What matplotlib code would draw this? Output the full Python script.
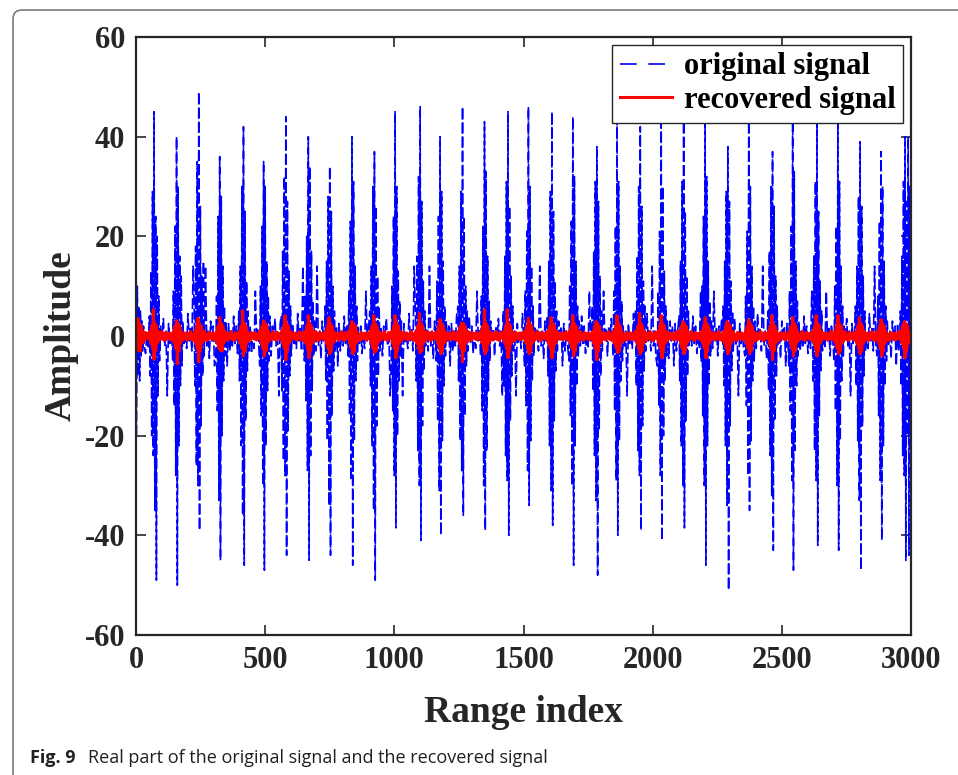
import numpy as np
import matplotlib
matplotlib.use('Agg')
import matplotlib.pyplot as plt
from matplotlib.patches import FancyBboxPatch

plt.rcParams['axes.unicode_minus'] = False

# burst centres (range index)
burst_centers = [14, 73, 163, 246, 330, 419, 500, 583, 673, 753, 842, 926,
                 1009, 1103, 1183, 1267, 1355, 1443, 1525, 1613, 1697, 1787,
                 1868, 1955, 2039, 2123, 2209, 2294, 2378, 2467, 2548, 2639,
                 2723, 2806, 2890, 2980]

# original signal, samples inside each burst
blue_bursts = [
    [21, -30, 16, -20, 10, -8, 6, -9, 5, -4, 3, -3, 2, -2],
    [4, -8, 13, -20, 29, -24, 45, -35, 24, -49, 20, -12, 8, -5],
    [-5, 9, -14, 22, -28, 40, -50, 30, -22, 16, -10, 12, -6, 3],
    [6, -10, 18, -26, 35, -30, 49, -39, 26, -18, 12, -8, 15, -4],
    [-4, 8, -15, 24, -33, 36, -45, 28, -20, 14, -9, 6, -4, 3],
    [5, -9, 14, -22, 30, -36, 42, -46, 25, -17, 11, -7, 5, -3],
    [-6, 10, -16, 22, -30, 35, -47, 30, -22, 15, -11, 8, -5, 4],
    [4, -11, 17, -25, 32, -28, 44, -44, 27, -19, 13, -8, 6, -4],
    [-5, 8, -13, 20, -27, 40, -45, 34, -24, 17, -11, 7, -4, 3],
    [6, -9, 15, -21, 28, -34, 34, -44, 25, -16, 10, -7, 5, -3],
    [-4, 9, -16, 23, -29, 40, -46, 31, -21, 14, -9, 6, -5, 2],
    [5, -10, 14, -22, 30, -35, 37, -49, 26, -18, 12, -8, 6, -3],
    [-6, 10, -15, 24, -28, 45, -38.5, 30, -20, 13, -9, 7, -4, 3],
    [4, -9, 16, -23, 32, -30, 46, -41, 27, -18, 11, -7, 5, -2],
    [-5, 11, -17, 24, -31, 40, -40, 29, -21, 15, -10, 6, -4, 3],
    [6, -9, 14, -21, 29, -27, 46, -36, 24, -16, 10, -6, 5, -3],
    [-4, 8, -15, 22, -30, 43, -39, 33, -23, 16, -11, 7, -5, 3],
    [5, -10, 16, -24, 31, -29, 45, -40, 26, -17, 12, -8, 6, -3],
    [-6, 9, -14, 21, -27, 46, -34, 30, -21, 14, -9, 6, -4, 2],
    [4, -8, 15, -22, 29, -31, 45, -38, 25, -17, 11, -7, 5, -3],
    [-5, 10, -16, 23, -30, 44, -46, 32, -22, 15, -10, 6, -4, 3],
    [6, -11, 17, -24, 31, -33, 38, -48, 27, -19, 12, -8, 5, -3],
    [-4, 9, -15, 22, -29, 45, -40, 31, -21, 14, -9, 7, -5, 2],
    [5, -10, 16, -23, 30, -28, 42, -39, 26, -18, 11, -7, 6, -3],
    [-6, 9, -14, 21, -28, 47, -41, 30, -20, 13, -9, 6, -4, 3],
    [4, -9, 15, -22, 31, -30, 46, -38.5, 25, -17, 12, -8, 5, -2],
    [-5, 10, -16, 24, -30, 45, -46, 32, -22, 15, -10, 7, -4, 3],
    [6, -10, 15, -22, 29, -34, 38, -51, 27, -18, 11, -7, 5, -3],
    [-4, 8, -14, 21, -28, 46, -35, 30, -21, 14, -9, 6, -5, 3],
    [5, -11, 17, -24, 30, -32, 37, -43, 26, -17, 12, -8, 6, -2],
    [-6, 9, -15, 22, -29, 46, -47, 33, -23, 15, -10, 7, -4, 3],
    [4, -9, 16, -23, 31, -29, 45, -42, 25, -16, 11, -7, 5, -3],
    [-5, 10, -15, 22, -30, 45, -43, 31, -21, 14, -9, 6, -4, 2],
    [6, -10, 14, -21, 28, -33, 39, -47, 26, -18, 12, -8, 5, -3],
    [-4, 8, -16, 23, -29, 37, -41, 30, -22, 15, -10, 6, -5, 3],
    [5, -10, 16, -24, 31, -28, 40, -45, 27, -20, 40, -44, 30, -20],
]

# original signal between bursts
blue_quiet = [2.5, -3, 1, -2, 4, -1.5, 2, -3.5, 0.5, -2.5, 9, -1, 1.5, -4,
              2, -0.5, 3.5, -2, 1, -12, 2.5, -1.5, 0.5, -2.5, 4.5, -1, 1.5,
              -3, 14, -2, 1, -4.5, 3, -1, 2, -6]

# recovered signal: burst peaks (top, bottom) and shared burst/quiet samples
red_tops = [3.5, 5.3, 3.1, 3.6, 3.7, 5.1, 3.1, 4.1, 4.1, 3.7, 2.9, 4.1,
            4.1, 4.5, 3.3, 2.6, 5.3, 5.3, 3.6, 3.7, 4.1, 2.9, 4.1, 4.5,
            4.1, 2.9, 3.7, 2.9, 3.3, 4.1, 3.7, 4.1, 4.1, 3.7, 3.3, 2.9]
red_bottoms = [-3.0, -4.7, -5.6, -5.2, -2.9, -4.0, -4.0, -4.8, -4.4, -3.6, -3.6, -3.3,
               -4.4, -3.3, -3.6, -5.2, -3.6, -4.4, -3.6, -4.4, -4.0, -4.8, -3.3, -3.6,
               -4.4, -3.6, -4.4, -3.6, -3.6, -4.8, -4.0, -4.0, -3.6, -3.6, -4.0, -4.4]
red_inner = [1, -1.5, 2, -2.5, 2.5, -3, 2, -1.5, 1, -1]
red_quiet = [0.6, -0.8, 0.4, -0.5, 0.9, -0.7, 0.3, -0.9, 0.7, -0.4, 0.5, -0.6]


def build_trace(centers, bursts, quiet, step_burst=2, step_quiet=5):
    xs, ys = [], []
    prev_end = 0
    for i, (c, vals) in enumerate(zip(centers, bursts)):
        half = len(vals) // 2
        bx = c + step_burst * (np.arange(len(vals)) - half)
        gap = np.arange(prev_end + step_quiet, bx[0], step_quiet)
        off = (i * 7) % len(quiet)
        for k, g in enumerate(gap):
            xs.append(g)
            ys.append(quiet[(off + k) % len(quiet)])
        xs.extend(bx)
        ys.extend(vals)
        prev_end = bx[-1]
    gap = np.arange(prev_end + step_quiet, 3001, step_quiet)
    for k, g in enumerate(gap):
        xs.append(g)
        ys.append(quiet[k % len(quiet)])
    xs = np.array(xs, dtype=float)
    ys = np.array(ys, dtype=float)
    keep = (xs >= 0) & (xs <= 3000)
    return xs[keep], ys[keep]


red_bursts = [[red_inner[0], red_inner[1], red_inner[2], red_inner[3], t, b,
               red_inner[4], red_inner[5], red_inner[6], red_inner[7],
               red_inner[8], red_inner[9]]
              for t, b in zip(red_tops, red_bottoms)]

bx, by = build_trace(burst_centers, blue_bursts, blue_quiet, step_burst=3, step_quiet=5)
rx, ry = build_trace(burst_centers, red_bursts, red_quiet, step_burst=3, step_quiet=4)

serif = 'Liberation Serif'
dark = '#262626'

fig = plt.figure(figsize=(9.58, 7.75), dpi=100)
ax = fig.add_axes([136 / 958, 140 / 775, 775 / 958, 598 / 775])

ax.plot(bx, by, color=(0, 0, 1), lw=1.2, linestyle=(0, (6.5, 2)), label='original signal')
ax.plot(rx, ry, color=(1, 0, 0), lw=2.2, label='recovered signal')

ax.set_xlim(0, 3000)
ax.set_ylim(-60, 60)
ax.set_xticks(np.arange(0, 3001, 500))
ax.set_yticks(np.arange(-60, 61, 20))
ax.tick_params(direction='in', length=7, width=1.2, top=True, right=True,
               colors=dark, labelsize=22, pad=8)
for lab in ax.get_xticklabels() + ax.get_yticklabels():
    lab.set_fontfamily(serif)
    lab.set_fontweight('bold')
for sp in ax.spines.values():
    sp.set_linewidth(1.6)
    sp.set_color(dark)

ax.set_xlabel('Range index', fontfamily=serif, fontweight='bold', fontsize=27,
              color=dark, labelpad=14)
ax.set_ylabel('Amplitude', fontfamily=serif, fontweight='bold', fontsize=27,
              color=dark, labelpad=4)

leg = ax.legend(loc='upper right', prop={'family': serif, 'weight': 'bold', 'size': 22},
                fancybox=False, framealpha=1, edgecolor=dark, handlelength=1.7,
                handletextpad=0.4, borderpad=0.25, labelspacing=0.15,
                borderaxespad=0.25)
leg.get_frame().set_linewidth(1.0)
leg.get_lines()[0].set_linestyle((0, (10, 7)))

# surrounding frame of the figure box
frame = FancyBboxPatch((0.13, -1.0), 10.0, 8.65, boxstyle='round,pad=0,rounding_size=0.09',
                       transform=fig.dpi_scale_trans, fill=False, edgecolor='#7a7a7a',
                       lw=1.2, clip_on=False)
fig.patches.append(frame)

fig.text(30 / 958, 0.016, 'Fig. 9', fontfamily='Open Sans', fontweight='bold',
         fontsize=13, color='#231f20', va='baseline')
fig.text(88 / 958, 0.016, 'Real part of the original signal and the recovered signal',
         fontfamily='Open Sans', fontsize=13, color='#231f20', va='baseline')

fig.savefig('out.png', dpi=100)
